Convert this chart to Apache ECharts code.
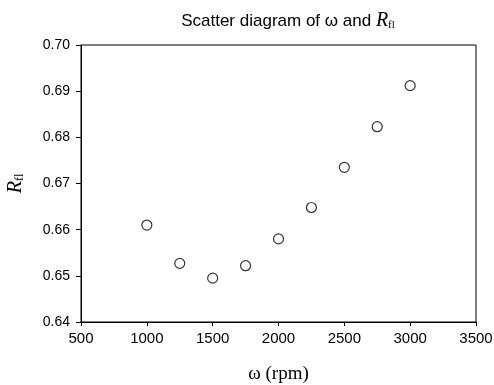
<!DOCTYPE html>
<html>
<head>
<meta charset="utf-8">
<script src="https://cdn.jsdelivr.net/npm/echarts@6/dist/echarts.min.js"></script>
<style>
  html, body { margin: 0; padding: 0; background: #fff; }
  #chart { width: 494px; height: 385px; }
</style>
</head>
<body>
<div id="chart"></div>
<script>
// 转速 ω (rpm) 与 R_fl 数据
const speeds = [1000, 1250, 1500, 1750, 2000, 2250, 2500, 2750, 3000];
const rfl = [0.661, 0.6527, 0.6495, 0.6522, 0.658, 0.6648, 0.6735, 0.6823, 0.6912];
const xTicks = [500, 3500, 500];   // min, max, interval
const yTicks = [0.64, 0.70, 0.01]; // min, max, interval

const chart = echarts.init(document.getElementById("chart"));
const sans = "Liberation Sans, Arial, sans-serif";
const serif = "Liberation Serif, Times New Roman, serif";

chart.setOption({
  animation: false,
  title: {
    text: "Scatter diagram of ω and {r|R}{s|fl}",
    left: 283,
    textAlign: "center",
    top: 6,
    textStyle: {
      fontFamily: sans,
      fontSize: 17,
      fontWeight: "normal",
      color: "#000",
      rich: {
        r: { fontFamily: serif, fontStyle: "italic", fontSize: 20, color: "#000" },
        s: { fontFamily: serif, fontSize: 11, color: "#000", verticalAlign: "bottom", padding: [7, 0, 0, 0] },
      },
    },
  },
  grid: {
    left: 81,
    right: 18,
    top: 45,
    bottom: 63,
    outerBoundsMode: "none",
    containLabel: false,
    show: true,
    borderColor: "#000",
    borderWidth: 1,
  },
  xAxis: {
    type: "value",
    min: xTicks[0],
    max: xTicks[1],
    interval: xTicks[2],
    name: "ω (rpm)",
    nameLocation: "middle",
    nameGap: 43,
    nameTextStyle: { fontFamily: serif, fontSize: 19, color: "#000" },
    axisLine: { lineStyle: { color: "#000", width: 1 } },
    axisTick: { length: 4, lineStyle: { color: "#000" } },
    axisLabel: {
      fontFamily: sans,
      fontSize: 15,
      color: "#000",
      margin: 9,
      formatter: (v) => String(v),
    },
    splitLine: { show: false },
  },
  yAxis: {
    type: "value",
    min: yTicks[0],
    max: yTicks[1],
    interval: yTicks[2],
    name: "{r|R}{s|fl}",
    nameLocation: "middle",
    nameGap: 55,
    nameRotate: 90,
    nameTextStyle: {
      rich: {
        r: { fontFamily: serif, fontStyle: "italic", fontSize: 20, color: "#000" },
        s: { fontFamily: serif, fontSize: 12, color: "#000", padding: [9, 0, 0, 0] },
      },
    },
    axisLine: { lineStyle: { color: "#000", width: 1 } },
    axisTick: { length: 5, lineStyle: { color: "#000" } },
    axisLabel: {
      fontFamily: sans,
      fontSize: 14,
      color: "#000",
      margin: 11,
      formatter: (v) => v.toFixed(2),
    },
    splitLine: { show: false },
  },
  series: [
    {
      type: "scatter",
      data: speeds.map((s, i) => [s, rfl[i]]),
      symbol: "circle",
      symbolSize: 10,
      itemStyle: { color: "#fff", borderColor: "#000", borderWidth: 1.2 },
    },
  ],
});
</script>
</body>
</html>
